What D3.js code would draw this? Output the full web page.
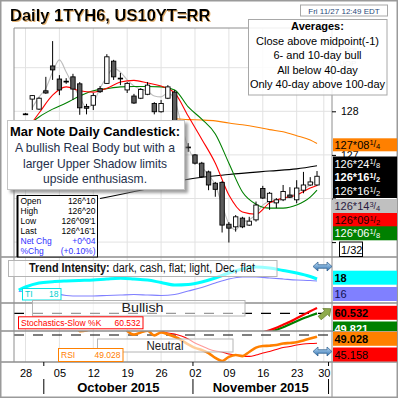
<!DOCTYPE html>
<html>
<head>
<meta charset="utf-8">
<script src="https://cdn.jsdelivr.net/npm/d3@7"></script>
<style>
  html, body { margin: 0; padding: 0; background: #fff; }
  svg { display: block; }
  text { font-family: "Liberation Sans", Arial, sans-serif; }
</style>
</head>
<body>
<div class="chart"></div>
<script>
// trading days shown (Thanksgiving 11/26 closed)
const days = ['09/28','09/29','09/30','10/01','10/02','10/05','10/06','10/07','10/08','10/09',
  '10/12','10/13','10/14','10/15','10/16','10/19','10/20','10/21','10/22','10/23',
  '10/26','10/27','10/28','10/29','10/30','11/02','11/03','11/04','11/05','11/06',
  '11/09','11/10','11/11','11/12','11/13','11/16','11/17','11/18','11/19','11/20',
  '11/23','11/24','11/25','11/27'];

const weekTicks = ['28','05','12','19','26','02','09','16','23','30'];
const weekTickDay = [0, 5, 10, 15, 20, 25, 30, 35, 40, 44];
const months = ['October 2015', 'November 2015'];
const monthLastDay = [2, 24, 44];

// Mar 10yr note, decimal points
const open = [127.94,128.28,128.05,128.47,129.04,128.74,128.69,128.79,128.63,128.11,
  128.14,128.52,128.64,129.15,128.76,128.49,128.35,128.30,128.39,128.18,
  127.99,128.30,128.44,127.36,127.18,127.00,126.81,126.61,126.35,126.37,
  125.41,125.35,125.55,125.39,125.51,126.23,125.93,125.90,125.97,126.08,
  125.97,126.19,126.31,126.31];
const high = [127.96,128.37,128.32,128.79,129.61,128.83,128.76,128.86,128.67,128.17,
  128.42,128.58,129.31,129.18,128.88,128.67,128.40,128.53,128.67,128.21,
  128.26,128.60,128.49,127.45,127.27,127.02,126.84,126.64,126.38,126.40,
  125.46,125.62,125.58,125.58,125.93,126.29,126.15,126.01,126.31,126.26,
  126.42,126.61,126.49,126.63];
const low = [127.92,128.03,128.03,128.40,128.72,128.37,128.63,128.26,127.92,127.93,
  128.03,128.42,128.63,128.72,128.60,128.42,128.17,128.28,128.37,127.93,
  127.97,128.28,127.32,127.10,127.07,126.78,126.47,126.19,126.04,125.22,
  124.99,125.24,125.32,125.37,125.47,125.99,125.74,125.78,125.94,126.01,
  125.89,126.12,126.29,126.29];
const close = [127.93,128.36,128.30,128.42,128.95,128.49,128.68,128.51,128.08,128.07,
  128.36,128.45,129.25,128.79,128.75,128.64,128.19,128.50,128.60,127.99,
  128.18,128.56,127.39,127.18,127.17,126.81,126.50,126.31,126.21,125.39,
  125.32,125.58,125.35,125.48,125.85,126.01,126.12,125.97,126.16,126.03,
  126.24,126.31,126.38,126.51];

// moving averages
const maDay = [0,2,4,6,8,10,12,14,16,18,20,22,24,26,28,30,32,34,36,38,40,42,43];
const ma6 = [127.53,127.96,128.37,128.56,128.47,128.44,128.53,128.67,128.71,128.65,128.58,128.42,
  127.89,127.36,126.81,126.08,125.69,125.64,125.90,126.01,126.08,126.24,126.30];
const ma10 = [127.62,127.87,128.05,128.19,128.35,128.47,128.52,128.56,128.57,128.57,128.56,128.49,
  128.10,127.82,127.48,126.81,126.15,125.87,125.78,125.78,125.85,126.03,126.19];
const midDay = [1,2,3,4,5,6,7,8,9,10,11,12,13,14,15,16,17,18,19,20,21,22,
  23,24,25,26,27,28,29,30,31,32,33,34,35,36,37,38,39,40,41,42,43];
const midLine = [128.08,128.33,128.53,128.90,129.18,128.90,128.60,128.33,128.08,128.19,128.53,
  128.79,128.99,128.90,128.72,128.58,128.51,128.46,128.35,128.33,128.42,128.26,127.69,127.16,
  126.88,126.72,126.54,126.31,125.85,125.42,125.28,125.46,125.51,125.64,125.85,125.92,125.90,
  126.01,126.03,126.15,126.22,126.31,126.42];
const ma100Day = [22,24,26,28,30,32,34,36,38,40,42,43];
const ma100 = [127.83,127.81,127.80,127.78,127.73,127.69,127.64,127.58,127.53,127.44,127.34,127.26];
const ma40Day = [11,17,24,30,36,40,43];
const ma40 = [126.00,126.19,126.44,126.55,126.63,126.68,126.75];

// trend intensity
const tiDay = [-1,0,2,4,6,8,10,12,14,16,18,20,22,24,26,28,30,32,34,36,38,40,42,43];
const tiDark = [7,10,14,15.3,16,16.5,17,18,18.7,18,17,14.5,12,12.5,15,19,24,28,30,29,26.5,24,20.5,18];
const tiLight = [5.5,6,6.5,4,1.5,1,1,1.5,2,2.5,2,1.5,2.5,6,9.5,14,18,20,20,19,18,17,16.5,16];

// stochastics (only the tail is inside the pane)
const stochDay = [35,36,37,38,39,40,41,42,43];
const stochK = [12,16,21,27,33,40,47,54,60.53];
const stochD = [8,12,17,22,28,34,40,45,49.82];

// RSI and its average
const rsi = [58,62,60,63,68,62,63,60,52.3,52.6,56,58,64,60,58,52.5,50.2,51.5,52.5,49.8,
  51.5,50.5,49.0,47.0,44.5,42.4,41.2,39.4,36.5,34.7,37.1,38.2,37.6,40.0,42.6,43.5,43.7,44.1,
  45.0,45.3,45.7,46.8,47.9,49.03];
const rsiAvg = [60,60,61,61,62,62,62,61,60,59,58,58,58,58,57,56,55,54,54,53,
  52.4,51.2,50.6,49.4,47.6,45.3,43.5,41.8,40.6,40.0,38.8,38.2,37.6,37.4,38.2,39.4,40.3,41.5,
  42.6,43.2,44.1,44.7,45.0,45.16];

// right hand value tags
const priceTags = [['127*08','1','4'],['126*24','1','8'],['126*16','1','2'],['126*16','1','2'],
  ['126*14','3','4'],['126*09','1','2'],['126*06','1','8']];
const tiTags = ['18', '16'];
const stochTags = ['60.532', '49.821'];
const rsiTags = ['49.028', '45.158'];

const averagesText = ['Close above midpoint(-1)', '6- and 10-day bull', 'All below 40-day', 'Only 40-day above 100-day'];
const noteLines = ['A bullish Real Body but with a', 'larger Upper Shadow limits', 'upside enthusiasm.'];
const ohlcNames = ['Open', 'High', 'Low', 'Last', 'Net Chg', '%Chg'];
const ohlcValues = ['126^10', '126^20', "126^09'1", "126^16'1", '+0^04', '(+0.10%)'];

const W = 398, H = 398;
const plotL = 14, plotR = 332;
const mainT = 28, mainB = 257, tiB = 303, stB = 331, rsiB = 362;
const grid = '#e2e2e2', frame = '#8e8e8e';

const svg = d3.select('.chart').append('svg').attr('width', W).attr('height', H);
const defs = svg.append('defs');

function clip(id, y0, y1) {
  defs.append('clipPath').attr('id', id).append('rect')
    .attr('x', plotL).attr('y', y0).attr('width', plotR - plotL).attr('height', y1 - y0);
}
clip('cMain', mainT, mainB);
clip('cTI', mainB, tiB);
clip('cSt', tiB, stB);
clip('cRsi', stB, rsiB);
defs.append('clipPath').attr('id', 'cStTag').append('rect')
  .attr('x', plotR).attr('y', tiB).attr('width', W - plotR).attr('height', stB - tiB);

const sh = defs.append('filter').attr('id', 'shadow').attr('x', -0.1).attr('y', -0.1)
  .attr('width', 1.3).attr('height', 1.4);
sh.append('feDropShadow').attr('dx', 3).attr('dy', 3).attr('stdDeviation', 1.5)
  .attr('flood-color', '#777').attr('flood-opacity', 0.7);
const glow = defs.append('filter').attr('id', 'glow');
glow.append('feDropShadow').attr('dx', 1).attr('dy', 1).attr('stdDeviation', 0.3)
  .attr('flood-color', '#e0a860').attr('flood-opacity', 0.9);

const blueGrad = defs.append('linearGradient').attr('id', 'blueArrow')
  .attr('x1', 0).attr('y1', 0).attr('x2', 0).attr('y2', 1);
blueGrad.append('stop').attr('offset', 0).attr('stop-color', '#bfe0fa');
blueGrad.append('stop').attr('offset', 1).attr('stop-color', '#2f6fae');

svg.append('rect').attr('width', W).attr('height', H).attr('fill', '#fff');

const x = d3.scaleLinear().domain([0, 44]).range([25.5, 323.8]);
const y = d3.scaleLinear().domain([125, 128]).range([242.1, 111.3]);
const ti = d3.scaleLinear().domain([0, 30]).range([297, 267]);
const st = d3.scaleLinear().domain([0, 100]).range([338.3, 288.3]);
const rs = d3.scaleLinear().domain([0, 100]).range([420, 250]);

// grid
svg.append('g').selectAll('line').data(weekTickDay).join('line')
  .attr('x1', d => x(d)).attr('x2', d => x(d)).attr('y1', mainT).attr('y2', rsiB)
  .attr('stroke', grid);
svg.append('g').selectAll('line').data([125, 126, 127, 128, 129]).join('line')
  .attr('x1', plotL).attr('x2', plotR).attr('y1', d => y(d)).attr('y2', d => y(d))
  .attr('stroke', grid);

function drawLine(g, idx, vals, yS, color, width) {
  g.append('path').datum(idx.map((d, k) => [d, vals[k]]))
    .attr('d', d3.line().x(d => x(d[0])).y(d => yS(d[1])).curve(d3.curveMonotoneX))
    .attr('fill', 'none').attr('stroke', color).attr('stroke-width', width)
    .attr('stroke-linejoin', 'round');
}

// main price pane
const main = svg.append('g').attr('clip-path', 'url(#cMain)');
drawLine(main, midDay, midLine, y, '#bdbdbd', 1.1);
drawLine(main, ma100Day, ma100, y, '#ff8000', 1.1);
drawLine(main, ma40Day, ma40, y, '#000', 1.1);
drawLine(main, maDay, ma10, y, '#008000', 1.1);
drawLine(main, maDay, ma6, y, '#ff0000', 1.1);

const candles = days.map((d, i) => ({i, o: open[i], h: high[i], l: low[i], c: close[i]}));
main.append('g').selectAll('line').data(candles).join('line')
  .attr('x1', d => x(d.i)).attr('x2', d => x(d.i))
  .attr('y1', d => y(d.h)).attr('y2', d => y(d.l))
  .attr('stroke', '#000');
main.append('g').selectAll('rect').data(candles).join('rect')
  .attr('x', d => x(d.i) - 2.2).attr('width', 4.4)
  .attr('y', d => y(Math.max(d.o, d.c)))
  .attr('height', d => Math.max(0.8, Math.abs(y(d.o) - y(d.c))))
  .attr('fill', d => d.c >= d.o ? '#fff' : '#5c5c5c')
  .attr('stroke', '#000').attr('stroke-width', 0.9);

// trend intensity pane
const tiG = svg.append('g').attr('clip-path', 'url(#cTI)');
drawLine(tiG, tiDay, tiLight, ti, '#8080ff', 1.2);
drawLine(tiG, tiDay, tiDark, ti, '#00ffff', 3);

// stochastics pane
const stG = svg.append('g').attr('clip-path', 'url(#cSt)');
stG.append('line').attr('x1', plotL).attr('x2', plotR).attr('y1', st(50)).attr('y2', st(50))
  .attr('stroke', '#000').attr('stroke-width', 1.2).attr('stroke-dasharray', '10,9');
drawLine(stG, stochDay, stochD, st, '#008000', 2.2);
drawLine(stG, stochDay, stochK, st, '#ff0000', 2.2);

// RSI pane
const rsG = svg.append('g').attr('clip-path', 'url(#cRsi)');
rsG.append('line').attr('x1', plotL).attr('x2', plotR).attr('y1', rs(50)).attr('y2', rs(50))
  .attr('stroke', '#000').attr('stroke-width', 1.2).attr('stroke-dasharray', '10,9');
const dayIdx = days.map((d, i) => i);
drawLine(rsG, dayIdx, rsiAvg, rs, '#ff0000', 1.1);
drawLine(rsG, dayIdx, rsi, rs, '#ff8000', 2.6);

// frame
const fr = svg.append('g').attr('stroke', frame).attr('fill', 'none');
fr.append('line').attr('x1', plotL).attr('x2', plotR).attr('y1', mainT).attr('y2', mainT);
fr.append('line').attr('x1', plotL).attr('x2', plotL).attr('y1', mainT).attr('y2', rsiB);
fr.append('line').attr('x1', plotR).attr('x2', plotR).attr('y1', mainT).attr('y2', H);
fr.selectAll('.sep').data([mainB, tiB, stB, rsiB]).join('line')
  .attr('x1', 0).attr('x2', W).attr('y1', d => d).attr('y2', d => d).attr('stroke-width', 1.3);
svg.append('rect').attr('x', 0.75).attr('y', 0.75).attr('width', W - 1.5).attr('height', H - 1.5)
  .attr('fill', 'none').attr('stroke', '#9a9a9a').attr('stroke-width', 1.5);

// title and stamp
svg.append('text').attr('x', 10).attr('y', 20.5).attr('font-size', 16.5).attr('font-weight', 'bold')
  .attr('fill', '#000').attr('filter', 'url(#glow)').text('Daily 1TYH6, US10YT=RR');
svg.append('rect').attr('x', 300.5).attr('y', 5).attr('width', 87).attr('height', 11)
  .attr('fill', '#fff').attr('stroke', '#a8a8a8');
svg.append('text').attr('x', 344).attr('y', 13.6).attr('text-anchor', 'middle').attr('font-size', 8)
  .attr('fill', '#2a4a7a').text('Fri 11/27 12:49 EDT');

// right axis ticks (125 and 126 sit under the tags)
const axR = svg.append('g').attr('transform', `translate(${plotR},0)`)
  .call(d3.axisRight(y).tickValues([125, 126, 127, 128]).tickSize(4).tickPadding(5)
    .tickFormat(d => d >= 127 ? d3.format('d')(d) : ''));
axR.select('.domain').remove();
axR.selectAll('text').attr('font-size', 10.5).attr('font-family', '"Liberation Sans", Arial, sans-serif');

svg.append('text').attr('x', 339).attr('y', 51.5).attr('font-size', 8).attr('fill', '#999').text('Price');
svg.append('text').attr('x', 339).attr('y', 66).attr('font-size', 8).attr('fill', '#999').text('UOP');

// averages box
svg.append('rect').attr('x', 248.5).attr('y', 19.5).attr('width', 138.5).attr('height', 75.5)
  .attr('fill', '#fff').attr('fill-opacity', 0.86).attr('stroke', '#a8a8a8');
svg.append('text').attr('x', 317.5).attr('y', 29.5).attr('text-anchor', 'middle')
  .attr('font-size', 11).attr('font-weight', 'bold').text('Averages:');
svg.append('g').selectAll('text').data(averagesText).join('text')
  .attr('x', 317.5).attr('y', (d, i) => 44.5 + i * 14.5).attr('text-anchor', 'middle')
  .attr('font-size', 11).text(d => d);

// price tags
const tagStyle = [
  {bg: '#ff8000', fg: '#000', bold: false, cy: 144.8, h: 6.5},
  {bg: '#000', fg: '#fff', bold: false, cy: 163.5, h: 7},
  {bg: '#000', fg: '#fff', bold: true, cy: 177, h: 7},
  {bg: '#000', fg: '#fff', bold: false, cy: 191, h: 7},
  {bg: '#c0c0c0', fg: '#2a1a40', bold: false, cy: 206, h: 7},
  {bg: '#ff0000', fg: '#1a0000', bold: false, cy: 220, h: 7},
  {bg: '#008000', fg: '#fff', bold: false, cy: 233.3, h: 7}];
const tags = svg.append('g');
priceTags.forEach((t, k) => {
  const s = tagStyle[k];
  tags.append('rect').attr('x', plotR + 1).attr('y', s.cy - s.h).attr('width', 64).attr('height', s.h * 2)
    .attr('fill', s.bg);
  const tx = tags.append('text').attr('x', plotR + 2.5).attr('y', s.cy + 4).attr('font-size', 11)
    .attr('fill', s.fg).attr('font-weight', s.bold ? 'bold' : 'normal');
  tx.append('tspan').text(t[0]);
  tx.append('tspan').attr('font-size', 7.5).attr('dy', -3.5).text(t[1]);
  tx.append('tspan').attr('font-size', 9).attr('dy', 2).text('/');
  tx.append('tspan').attr('font-size', 7.5).attr('dy', 2).text(t[2]);
});
svg.append('rect').attr('x', 339.5).attr('y', 242).attr('width', 23).attr('height', 14.5)
  .attr('fill', '#fff').attr('stroke', '#000');
svg.append('text').attr('x', 341).attr('y', 253.5).attr('font-size', 11).text('1/32');

// lower pane tags
function tag(g, cy, text, bg, fg, bold) {
  g.append('rect').attr('x', plotR + 1).attr('y', cy - 7).attr('width', 64).attr('height', 14).attr('fill', bg);
  g.append('text').attr('x', plotR + 2.5).attr('y', cy + 4).attr('font-size', 11)
    .attr('font-weight', bold ? 'bold' : 'normal').attr('fill', fg).text(text);
}
tag(svg, 277.7, tiTags[0], '#00ffff', '#000', true);
tag(svg, 294, tiTags[1], '#8080ff', '#101050', false);
const stTagG = svg.append('g').attr('clip-path', 'url(#cStTag)');
tag(stTagG, 312.8, stochTags[0], '#ff0000', '#000', true);
tag(stTagG, 328.5, stochTags[1], '#008000', '#fff', true);
tag(svg, 338.8, rsiTags[0], '#ff8000', '#000', true);
tag(svg, 354.5, rsiTags[1], '#ff0000', '#000', false);

// note box
const note = svg.append('g');
note.append('rect').attr('x', 7.5).attr('y', 120.5).attr('width', 177).attr('height', 69)
  .attr('fill', '#fff').attr('stroke', '#c4c4c4').attr('filter', 'url(#shadow)');
note.append('text').attr('x', 95).attr('y', 135.5).attr('text-anchor', 'middle')
  .attr('font-family', 'Lato, "Open Sans", sans-serif').attr('font-size', 13).attr('font-weight', 'bold')
  .attr('textLength', 170).attr('lengthAdjust', 'spacingAndGlyphs').text('Mar Note Daily Candlestick:');
const noteW = [160, 144, 104];
note.selectAll('.nl').data(noteLines).join('text')
  .attr('x', 95).attr('y', (d, i) => 152 + i * 15.5).attr('text-anchor', 'middle')
  .attr('font-family', 'Lato, "Open Sans", sans-serif').attr('font-size', 13).attr('fill', '#24304c')
  .attr('textLength', (d, i) => noteW[i]).attr('lengthAdjust', 'spacingAndGlyphs').text(d => d);

// OHLC box
const ob = svg.append('g');
ob.append('rect').attr('x', 17.5).attr('y', 195.5).attr('width', 80).attr('height', mainB - 195.5)
  .attr('fill', '#fff').attr('stroke', '#000');
ob.append('line').attr('x1', 17.5).attr('x2', 17.5).attr('y1', 195.5).attr('y2', mainB)
  .attr('stroke', '#000').attr('stroke-width', 2);
ohlcNames.forEach((n, i) => {
  const col = i < 4 ? '#000' : '#3030ff';
  ob.append('text').attr('x', 20.5).attr('y', 204 + i * 10).attr('font-size', 8.5).attr('fill', col).text(n);
  ob.append('text').attr('x', 95.5).attr('y', 204 + i * 10).attr('font-size', 8.5).attr('fill', col)
    .attr('text-anchor', 'end').text(ohlcValues[i]);
});

// lower pane captions
const cap = svg.append('g');
cap.append('rect').attr('x', 8.5).attr('y', 260.5).attr('width', 268.5).attr('height', 16)
  .attr('fill', '#fff').attr('fill-opacity', 0.6).attr('stroke', '#b4b4b4');
const tt = cap.append('text').attr('x', 29).attr('y', 272.3).attr('font-size', 12.5)
  .attr('font-family', 'Lato, "Open Sans", sans-serif').attr('fill', '#111')
  .attr('textLength', 226).attr('lengthAdjust', 'spacingAndGlyphs');
tt.append('tspan').attr('font-weight', 'bold').text('Trend Intensity:');
tt.append('tspan').text(' dark, cash, flat; light, Dec, flat');

cap.append('rect').attr('x', 22.5).attr('y', 288.5).attr('width', 38.5).attr('height', 11.5)
  .attr('fill', '#fff').attr('stroke', '#00e5e5');
cap.append('text').attr('x', 25).attr('y', 297.3).attr('font-size', 8.5).attr('fill', '#00d0d0').text('TI');
cap.append('text').attr('x', 58.5).attr('y', 297.3).attr('font-size', 8.5).attr('fill', '#00d0d0')
  .attr('text-anchor', 'end').text(tiTags[0]);

cap.append('rect').attr('x', 32.5).attr('y', 300.5).attr('width', 212.5).attr('height', 15.5)
  .attr('fill', '#fff').attr('fill-opacity', 0.6).attr('stroke', '#b4b4b4');
cap.append('text').attr('x', 142.5).attr('y', 311.5).attr('text-anchor', 'middle').attr('font-size', 13)
  .attr('font-family', 'Lato, "Open Sans", sans-serif').attr('fill', '#222')
  .attr('textLength', 42).attr('lengthAdjust', 'spacingAndGlyphs').text('Bullish');

cap.append('rect').attr('x', 18.5).attr('y', 316.8).attr('width', 124.5).attr('height', 12)
  .attr('fill', '#fff').attr('stroke', '#ff0000');
cap.append('text').attr('x', 21).attr('y', 326).attr('font-size', 8.5).attr('fill', '#ff0000').text('Stochastics-Slow %K');
cap.append('text').attr('x', 140.5).attr('y', 326).attr('font-size', 8.5).attr('fill', '#ff0000')
  .attr('text-anchor', 'end').text(stochTags[0]);

cap.append('rect').attr('x', 97.5).attr('y', 339).attr('width', 135.5).attr('height', 13)
  .attr('fill', '#fff').attr('fill-opacity', 0.6).attr('stroke', '#b4b4b4');
cap.append('text').attr('x', 165).attr('y', 349.5).attr('text-anchor', 'middle').attr('font-size', 12.5)
  .attr('font-family', 'Lato, "Open Sans", sans-serif').attr('fill', '#222')
  .attr('textLength', 37).attr('lengthAdjust', 'spacingAndGlyphs').text('Neutral');

cap.append('rect').attr('x', 58.5).attr('y', 348.5).attr('width', 64.5).attr('height', 13)
  .attr('fill', '#fff').attr('stroke', '#ff8000');
cap.append('text').attr('x', 61).attr('y', 358.3).attr('font-size', 8.5).attr('fill', '#ff8000').text('RSI');
cap.append('text').attr('x', 120.5).attr('y', 358.3).attr('font-size', 8.5).attr('fill', '#ff8000')
  .attr('text-anchor', 'end').text(rsiTags[0]);

// arrows
const dbl = 'M-9.5,0 L-4.5,-4.5 L-4.5,-1.8 L4.5,-1.8 L4.5,-4.5 L9.5,0 L4.5,4.5 L4.5,1.8 L-4.5,1.8 L-4.5,4.5 Z';
[266.5, 351.5].forEach(cy => {
  svg.append('path').attr('d', dbl).attr('transform', `translate(322.5,${cy})`)
    .attr('fill', 'url(#blueArrow)').attr('stroke', '#2a5a8a').attr('stroke-width', 0.7);
});
svg.append('path').attr('d', 'M-7,-2.3 L1.5,-2.3 L1.5,-5.2 L7.5,0 L1.5,5.2 L1.5,2.3 L-7,2.3 Z')
  .attr('transform', 'translate(325,313.5) rotate(-40)')
  .attr('fill', '#8fab4c').attr('stroke', '#627a2c').attr('stroke-width', 0.7);

// x axis
const axB = svg.append('g').attr('transform', `translate(0,${rsiB})`)
  .call(d3.axisBottom(x).tickValues(weekTickDay).tickSize(0).tickPadding(7)
    .tickFormat((d, i) => weekTicks[i]));
axB.select('.domain').remove();
axB.selectAll('text').attr('font-size', 11).attr('fill', '#000')
  .attr('font-family', '"Liberation Sans", Arial, sans-serif');

const mEdge = monthLastDay.map(d => x(d + 0.7));
svg.append('g').selectAll('line').data(mEdge).join('line')
  .attr('x1', d => d).attr('x2', d => d).attr('y1', rsiB).attr('y2', rsiB + 4).attr('stroke', '#000');
svg.append('g').selectAll('line').data(mEdge).join('line')
  .attr('x1', d => d).attr('x2', d => d).attr('y1', 379).attr('y2', 394).attr('stroke', '#000');
svg.append('g').selectAll('text').data(months).join('text')
  .attr('x', (d, i) => (mEdge[i] + mEdge[i + 1]) / 2).attr('y', 391.5).attr('text-anchor', 'middle')
  .attr('font-size', 13).attr('font-weight', 'bold').text(d => d);
</script>
</body>
</html>
